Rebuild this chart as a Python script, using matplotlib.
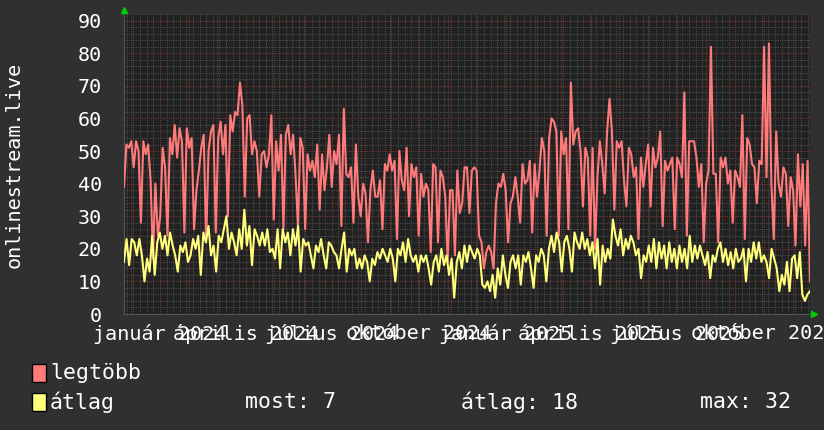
import numpy as np
import pandas as pd
import matplotlib
matplotlib.use("Agg")
import matplotlib.pyplot as plt
import matplotlib.dates as mdates
from matplotlib.ticker import MultipleLocator, FuncFormatter
from matplotlib.patches import Rectangle
from matplotlib.transforms import offset_copy

# -----------------------------
# Data
# -----------------------------
start_date = "2023-11-24"
end_date = "2025-11-19"

honapok = ["január", "február", "március", "április", "május", "június",
           "július", "augusztus", "szeptember", "október", "november", "december"]

legtobb = [
    39, 52, 51, 53, 45, 53, 50, 28, 53, 49, 52, 41, 17, 40, 24, 30, 51, 45, 24, 54, 49, 58, 48, 57, 53,
    25, 57, 51, 54, 26, 38, 44, 51, 55, 22, 50, 56, 58, 25, 54, 59, 49, 58, 30, 61,
    56, 62, 61, 71, 64, 36, 60, 61, 49, 53, 50, 36, 49, 50, 45, 49, 61, 29, 53, 44, 55, 26, 55, 58, 49,
    55, 43, 27, 54, 51, 26, 49, 44, 47, 42, 52, 32, 49, 38, 45, 55, 39, 50, 46, 55, 27, 63, 43, 42, 45,
    28, 52, 36, 30, 40, 37, 22, 38, 44, 36, 36, 41, 26, 46, 44, 49, 44, 47, 23, 50, 41, 38, 51, 30, 46,
    42, 45, 24, 43, 36, 40, 38, 19, 46, 45, 22, 44, 42, 36, 16, 38, 38, 18, 44, 31, 34, 45,
    45, 31, 44, 45, 44, 24, 22, 14, 19, 21, 19, 14, 34, 40, 39, 43, 38, 22, 34, 36, 42, 36, 28, 46, 40,
    41, 47, 25, 46, 36, 44, 54, 50, 24, 54, 60, 59, 56, 24, 56, 49, 54, 26, 71, 52, 56,
    57, 50, 33, 51, 48, 24, 51, 20, 42, 53, 46, 37, 56, 66, 56, 32, 53, 51, 53, 41, 33, 51, 49, 42, 45,
    23, 48, 39, 46, 52, 33, 51, 45, 48, 56, 27, 47, 44, 46, 48, 26, 48, 46, 42, 68, 24, 53, 53,
    53, 48, 39, 46, 22, 40, 44, 82, 43, 43, 22, 48, 45, 48, 40, 44, 28, 44, 42, 39, 61, 23, 54, 52, 46,
    45, 34, 47, 46, 82, 42, 83, 40, 23, 56, 40, 36, 45, 43, 27, 42, 38, 21, 49, 33, 46, 21, 47, 10,
]

atlag = [
    16, 23, 15, 23, 22, 18, 23, 18, 10, 17, 13, 24, 12, 22, 25, 20, 24, 18, 25, 21, 18, 13, 21, 19, 22,
    16, 18, 23, 20, 24, 12, 25, 22, 27, 18, 21, 13, 24, 22, 26, 30, 20, 25, 22,
    18, 26, 20, 32, 21, 27, 15, 26, 24, 21, 25, 21, 26, 19, 20, 17, 26, 14, 26, 22, 25, 18, 26, 21, 27,
    13, 23, 21, 22, 18, 14, 21, 19, 23, 18, 14, 22, 21, 19, 18, 14, 20, 25, 13, 20, 18,
    20, 14, 17, 14, 18, 16, 10, 17, 15, 19, 17, 20, 18, 16, 20, 17, 10, 20, 18, 22, 16, 23, 18, 16, 18,
    13, 18, 16, 18, 14, 9, 16, 18, 13, 20, 15, 18, 12, 17, 5, 16, 19, 14, 21, 16,
    21, 19, 17, 20, 18, 9, 8, 10, 7, 12, 5, 14, 9, 18, 12, 8, 16, 18, 14, 18, 9, 18, 16, 19, 14,
    8, 18, 16, 20, 18, 10, 20, 24, 19, 25, 22, 13, 22, 24, 20, 13, 25, 22, 20,
    25, 20, 23, 18, 22, 14, 23, 9, 21, 16, 20, 17, 29, 24, 21, 26, 18, 23, 20, 24, 22, 18, 20, 11, 18,
    16, 21, 16, 23, 14, 22, 17, 21, 14, 22, 16, 20, 14, 21, 16, 20, 14, 24, 16, 21, 17,
    21, 18, 15, 19, 11, 18, 16, 20, 22, 16, 20, 15, 19, 14, 20, 16, 17, 20, 10, 20, 16, 22, 17, 22, 16,
    18, 16, 11, 20, 17, 14, 7, 12, 9, 16, 7, 17, 18, 11, 19, 6, 4, 6, 7,
]

stat_labels = ["most: 7", "átlag: 18", "max: 32"]

# -----------------------------
# Style
# -----------------------------
FIG_BG = "#303030"
PLOT_BG = "#212121"
RED = "#ff7b7b"
YELLOW = "#ffff7b"
TXT = "#ffffff"
MONO = ["DejaVu Sans Mono"]

plt.rcParams["font.family"] = MONO

fig = plt.figure(figsize=(8.24, 4.30), dpi=100, facecolor=FIG_BG)
ax = fig.add_axes([124 / 824, 1 - 314 / 430, (810 - 124) / 824, (314 - 13.5) / 430])
ax.set_facecolor(PLOT_BG)

t_red = pd.date_range(start_date, end_date, periods=len(legtobb))
t_yel = pd.date_range(start_date, end_date, periods=len(atlag))

ax.plot(t_red, legtobb, color=RED, lw=1.5, zorder=3)
ax.plot(t_yel, atlag, color=YELLOW, lw=1.5, zorder=4)

ax.set_xlim(pd.Timestamp(start_date), pd.Timestamp(end_date))
ax.set_ylim(0, 92.2)

# grid: monthly red major, weekly grey minor
ax.xaxis.set_major_locator(mdates.MonthLocator())
ax.xaxis.set_minor_locator(mdates.WeekdayLocator(byweekday=mdates.MO))


def month_label(x, pos):
    d = mdates.num2date(x)
    if d.month in (1, 4, 7, 10):
        return f"{honapok[d.month - 1]} {d.year}"
    return ""


ax.xaxis.set_major_formatter(FuncFormatter(month_label))
ax.yaxis.set_major_locator(MultipleLocator(10))
ax.yaxis.set_minor_locator(MultipleLocator(2))

ax.grid(which="minor", color="#4c4c4c", lw=0.8, ls=(0, (1, 1)))
ax.grid(which="major", color="#7a3434", lw=0.8, ls=(0, (1, 1)))
ax.set_axisbelow(True)

ax.tick_params(which="both", length=0, colors=TXT, labelsize=14.5)
ax.tick_params(axis="x", pad=7)
ax.tick_params(axis="y", pad=16)

for s in ["top", "right"]:
    ax.spines[s].set_visible(False)
for s in ["left", "bottom"]:
    ax.spines[s].set_color("#555555")

fig.text(14 / 824, 1 - 165 / 430, "onlinestream.live", rotation=90, color=TXT,
         fontsize=14.5, ha="center", va="center")

# rrdtool style arrows
ax.plot(0, 1, marker="^", color="#00d000", ms=5, clip_on=False,
        transform=offset_copy(ax.transAxes, fig=fig, y=4, units="dots"))
ax.plot(1, 0, marker=">", color="#00d000", ms=5, clip_on=False,
        transform=offset_copy(ax.transAxes, fig=fig, x=4, units="dots"))

# legend
rows = [("legtöbb", RED, 373), ("átlag", YELLOW, 402)]
for name, col, yc in rows:
    fig.patches.append(Rectangle((32 / 824, 1 - (yc + 9) / 430), 14 / 824, 18 / 430,
                                 transform=fig.transFigure, facecolor=col,
                                 edgecolor="black", lw=1))
    fig.text(50 / 824, 1 - yc / 430, name, color=TXT, fontsize=15.5, va="center")

for txt, xp in zip(stat_labels, [245, 461, 700]):
    fig.text(xp / 824, 1 - 402 / 430, txt, color=TXT, fontsize=15.5, va="center")

fig.savefig("out.png", dpi=100, facecolor=FIG_BG)
